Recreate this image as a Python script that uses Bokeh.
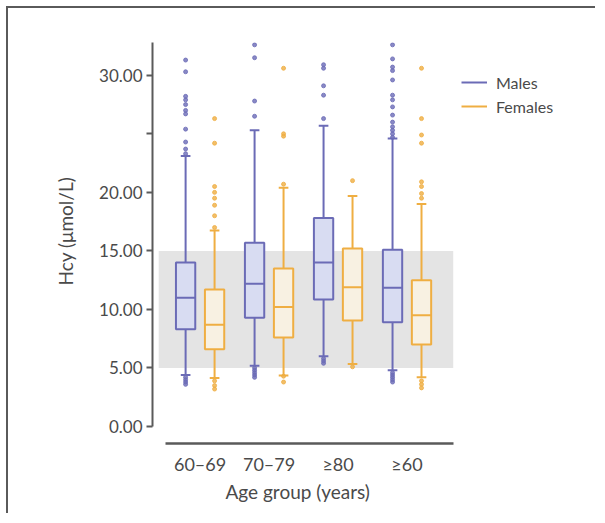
from bokeh.plotting import figure
from bokeh.models import (Range1d, FixedTicker, BoxAnnotation, Legend, LegendItem,
                          Title, ColumnDataSource)
from bokeh.embed import file_html
from bokeh.resources import INLINE

# ---------------- data ----------------
groups = ["60\u201369", "70\u201379", "\u226580", "\u226560"]
y_ticks = [0, 5, 10, 15, 20, 25, 30]
y_tick_labels = ["0.00", "5.00", "10.00", "15.00", "20.00", "", "30.00"]
ref_low, ref_high = 5, 15

male_q1 = [8.3, 9.3, 10.85, 8.9]
male_med = [11.0, 12.2, 14.0, 11.85]
male_q3 = [14.0, 15.7, 17.8, 15.1]
male_lo = [4.4, 5.2, 6.0, 4.8]
male_hi = [23.1, 25.3, 25.7, 24.6]
male_out = [
    [31.3, 30.3, 28.2, 27.9, 27.5, 27.0, 26.7, 25.4, 24.3, 23.7, 23.3, 4.2, 4.0, 3.8, 3.6],
    [32.6, 31.5, 27.8, 26.5, 5.0, 4.8, 4.6, 4.4, 4.2],
    [30.9, 30.6, 29.1, 28.3, 26.3, 5.8, 5.6, 5.4],
    [32.6, 31.4, 30.7, 30.4, 29.6, 28.3, 27.9, 27.3, 26.6, 26.0, 25.6, 25.3, 25.0, 24.7,
     4.6, 4.4, 4.2, 4.0, 3.8],
]

female_q1 = [6.6, 7.6, 9.05, 7.0]
female_med = [8.7, 10.2, 11.9, 9.5]
female_q3 = [11.7, 13.5, 15.2, 12.5]
female_lo = [4.15, 4.35, 5.35, 4.2]
female_hi = [16.75, 20.4, 19.7, 19.0]
female_out = [
    [26.3, 24.2, 20.5, 20.0, 19.5, 18.9, 18.0, 17.0, 3.9, 3.5, 3.2],
    [30.6, 25.0, 24.8, 20.7, 4.3, 3.8],
    [21.0, 5.1],
    [30.6, 26.3, 24.9, 24.2, 20.9, 20.5, 19.9, 19.5, 3.9, 3.6, 3.3],
]

series = ["Males", "Females"]
x_title = "Age group (years)"
y_title = "Hcy (\u03bcmol/L)"

MALE_LINE = "#6b6bb6"
MALE_FILL = "#d8dcf2"
FEM_LINE = "#efae42"
FEM_FILL = "#f8f1e2"
AXIS_COL = "#5a5a5a"
TEXT_COL = "#4a4a4a"
FONT = "Lato"

p = figure(width=589, height=507, output_backend="svg", toolbar_location=None,
           x_range=Range1d(-0.69, 5.66), y_range=Range1d(-1.45, 32.8),
           min_border_left=144, min_border_right=7, min_border_top=34, min_border_bottom=72)
p.styles = {"margin-top": "6px", "margin-left": "6px",
            "border-top": "2px solid #5a5a5a", "border-left": "2px solid #5a5a5a"}
p.outline_line_color = None
p.xgrid.visible = False
p.ygrid.visible = False
p.background_fill_color = "white"
p.border_fill_color = "white"

band = BoxAnnotation(bottom=ref_low, top=ref_high, left=-0.6, right=3.67,
                     fill_color="#e4e4e4", fill_alpha=1.0, line_color=None, level="underlay")
p.add_layout(band)

BOX_W = 0.28
CAP_W = 0.14
OFF = 0.21

legend_items = []
for k, (name, q1, med, q3, lo, hi, outs, lc, fc, off) in enumerate([
        ("Males", male_q1, male_med, male_q3, male_lo, male_hi, male_out, MALE_LINE, MALE_FILL, -OFF),
        ("Females", female_q1, female_med, female_q3, female_lo, female_hi, female_out, FEM_LINE, FEM_FILL, OFF)]):
    xs = [i + off for i in range(len(groups))]
    src = ColumnDataSource(dict(x=xs, q1=q1, med=med, q3=q3, lo=lo, hi=hi,
                                xl=[x - BOX_W / 2 for x in xs], xr=[x + BOX_W / 2 for x in xs],
                                cl=[x - CAP_W / 2 for x in xs], cr=[x + CAP_W / 2 for x in xs]))
    wr = p.segment(x0="x", y0="q3", x1="x", y1="hi", source=src, line_color=lc, line_width=2)
    p.segment(x0="x", y0="q1", x1="x", y1="lo", source=src, line_color=lc, line_width=2)
    p.segment(x0="cl", y0="hi", x1="cr", y1="hi", source=src, line_color=lc, line_width=2)
    p.segment(x0="cl", y0="lo", x1="cr", y1="lo", source=src, line_color=lc, line_width=2)
    p.vbar(x="x", width=BOX_W, top="q3", bottom="q1", source=src,
           fill_color=fc, line_color=lc, line_width=2)
    p.segment(x0="xl", y0="med", x1="xr", y1="med", source=src, line_color=lc, line_width=2)
    ox, oy = [], []
    for i, vals in enumerate(outs):
        for v in vals:
            ox.append(i + off)
            oy.append(v)
    p.scatter(ox, oy, size=4, fill_color=lc, line_color=lc, alpha=0.8)
    legend_items.append(LegendItem(label=name, renderers=[wr]))

legend = Legend(items=legend_items, location=(309, 326), border_line_color=None,
                background_fill_alpha=0, glyph_width=26, glyph_height=22, label_standoff=9,
                spacing=2, padding=0, margin=0,
                label_text_font=FONT, label_text_font_size="16px", label_text_color=TEXT_COL)
p.add_layout(legend)

# y axis
ya = p.yaxis[0]
ya.bounds = (0, 32.8)
ya.ticker = FixedTicker(ticks=y_ticks)
ya.major_label_overrides = {t: l for t, l in zip(y_ticks, y_tick_labels)}
ya.axis_line_color = AXIS_COL
ya.axis_line_width = 2
ya.major_tick_line_color = AXIS_COL
ya.major_tick_line_width = 2
ya.major_tick_out = 6
ya.major_tick_in = 0
ya.minor_tick_line_color = None
ya.major_label_standoff = 4
ya.major_label_text_font = FONT
ya.major_label_text_font_size = "17px"
ya.major_label_text_color = TEXT_COL

# x axis
xa = p.xaxis[0]
xa.bounds = (-0.5, 3.67)
xa.ticker = FixedTicker(ticks=list(range(len(groups))))
xa.major_label_overrides = {i: g for i, g in enumerate(groups)}
xa.axis_line_color = AXIS_COL
xa.axis_line_width = 2.5
xa.major_tick_line_color = None
xa.minor_tick_line_color = None
xa.major_label_standoff = 3
xa.major_label_text_font = FONT
xa.major_label_text_font_size = "18px"
xa.major_label_text_color = TEXT_COL

p.add_layout(Title(text=x_title, align="left", offset=73, standoff=0, text_font=FONT,
                   text_font_size="19px", text_font_style="normal", text_color=TEXT_COL),
             "below")
p.add_layout(Title(text=y_title, align="left", offset=158, standoff=39, text_font=FONT,
                   text_font_size="19px", text_font_style="normal", text_color=TEXT_COL),
             "left")

open("out.html", "w").write(file_html(p, INLINE))
